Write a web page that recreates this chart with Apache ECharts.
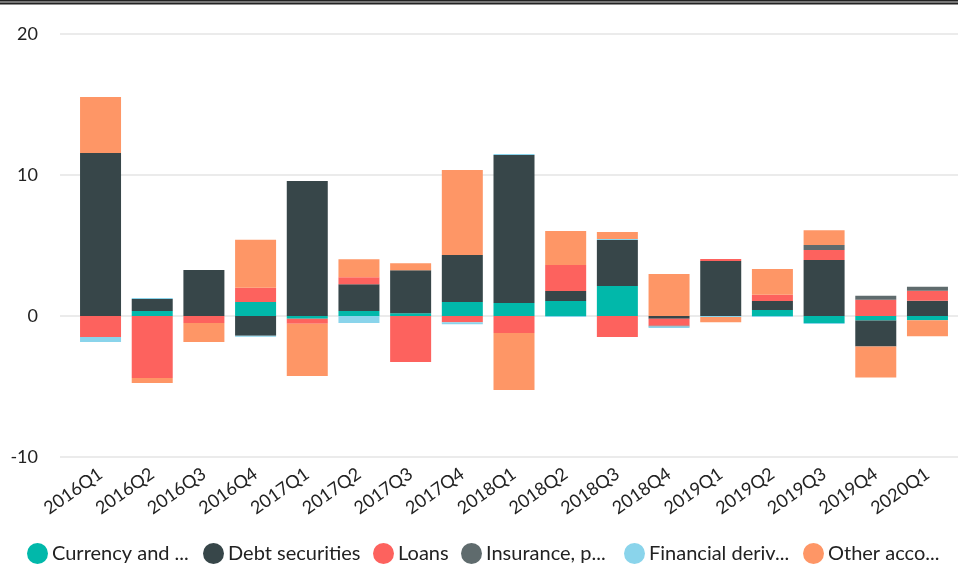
<!DOCTYPE html>
<html>
<head>
<meta charset="utf-8">
<script src="https://cdn.jsdelivr.net/npm/echarts@6/dist/echarts.min.js"></script>
<style>
html,body{margin:0;padding:0;background:#fff;}
#chart{width:958px;height:565px;}
</style>
</head>
<body>
<div id="chart"></div>
<script>
const categories = ['2016Q1','2016Q2','2016Q3','2016Q4','2017Q1','2017Q2','2017Q3','2017Q4','2018Q1','2018Q2','2018Q3','2018Q4','2019Q1','2019Q2','2019Q3','2019Q4','2020Q1'];
const seriesNames = ['Currency and deposits','Debt securities','Loans','Insurance, pension and standardised guarantee schemes','Financial derivatives','Other accounts receivable/payable'];
const legendLabels = ['Currency and ...','Debt securities','Loans','Insurance, p...','Financial deriv...','Other acco...'];
const currency  = [0,    0.35, 0,    1.0,  -0.2,  0.35, 0.2,  1.0,  0.92, 1.06, 2.13, 0,     0,    0.43, -0.5,  -0.32, -0.3];
const debt      = [11.56,0.85, 3.26, -1.4, 9.57,  1.9,  3.05, 3.33, 10.5, 0.71, 3.26, -0.2,  3.9,  0.64, 3.97,  -1.84, 1.08];
const loans     = [-1.49,-4.4, -0.5, 1.0,  -0.35, 0.5,  -3.26,-0.45,-1.2, 1.84, -1.49,-0.5,  0.14, 0.43, 0.71,  1.15,  0.71];
const insurance = [0,    0,    0,    0,    0,     0,    0,    0,    0,    0,    0,    -0.05, 0,    0,    0.35,  0.28,  0.28];
const findDeriv = [-0.35,0.08, 0,    -0.07,0,     -0.5, 0,    -0.14,0.07, -0.07,0.07, -0.1,  -0.07,-0.07,-0.07, 0,     0];
const other     = [3.97, -0.35,-1.35,3.4,  -3.7,  1.28, 0.5,  6.03, -4.04,2.41, 0.5,  2.98,  -0.37,1.84, 1.06,  -2.2,  -1.13];
const yTicks = [-10, 0, 10, 20];
const colors = ['#01B8AA','#374649','#FD625E','#5F6B6D','#8AD4EB','#FE9666'];
const values = [currency, debt, loans, insurance, findDeriv, other];
const legendLeft = [27, 203, 373, 461, 624, 803];

const chart = echarts.init(document.getElementById('chart'), null, {renderer:'canvas'});
const FONT = 'Lato';
const option = {
  animation:false,
  color: colors,
  textStyle:{fontFamily:FONT},
  grid:[
    {left:60, right:0, top:34, bottom:108},
    {left:74.7, right:4.7, top:34, bottom:108}
  ],
  xAxis:[
    {gridIndex:0, type:'value', min:0, max:1, show:false},
    {gridIndex:1, type:'category', data:categories,
     axisLine:{show:false}, axisTick:{show:false},
     axisLabel:{rotate:35, margin:15, fontSize:18, color:'#222', fontFamily:FONT, interval:0}}
  ],
  yAxis:[
    {gridIndex:0, type:'value', min:yTicks[0], max:yTicks[yTicks.length-1], interval:10,
     axisLine:{show:false}, axisTick:{show:false},
     axisLabel:{margin:22, fontSize:18, color:'#222', fontFamily:FONT},
     splitLine:{lineStyle:{color:'#ebebeb', width:2}}},
    {gridIndex:1, type:'value', min:yTicks[0], max:yTicks[yTicks.length-1], interval:10, show:false, splitLine:{show:false}}
  ],
  legend: seriesNames.map((n,i)=>({
    data:[n], left:legendLeft[i], top:543, padding:0, icon:'circle', itemWidth:21, itemHeight:21, itemGap:0,
    selectedMode:false,
    formatter: ()=>legendLabels[i],
    textStyle:{fontSize:20, color:'#222', fontFamily:FONT, padding:[0,0,0,-1]}
  })),
  series: seriesNames.map((n,i)=>({
    name:n, type:'bar', stack:'total', xAxisIndex:1, yAxisIndex:1,
    barWidth:41, data:values[i], itemStyle:{color:colors[i]}
  })),
  graphic:[
    {type:'rect', shape:{x:0,y:0,width:958,height:4}, style:{fill:'#777'}},
    {type:'rect', shape:{x:0,y:0,width:958,height:1}, style:{fill:'#222'}},
    {type:'rect', shape:{x:0,y:3,width:958,height:1.5}, style:{fill:'#222'}}
  ]
};
chart.setOption(option);
</script>
</body>
</html>
